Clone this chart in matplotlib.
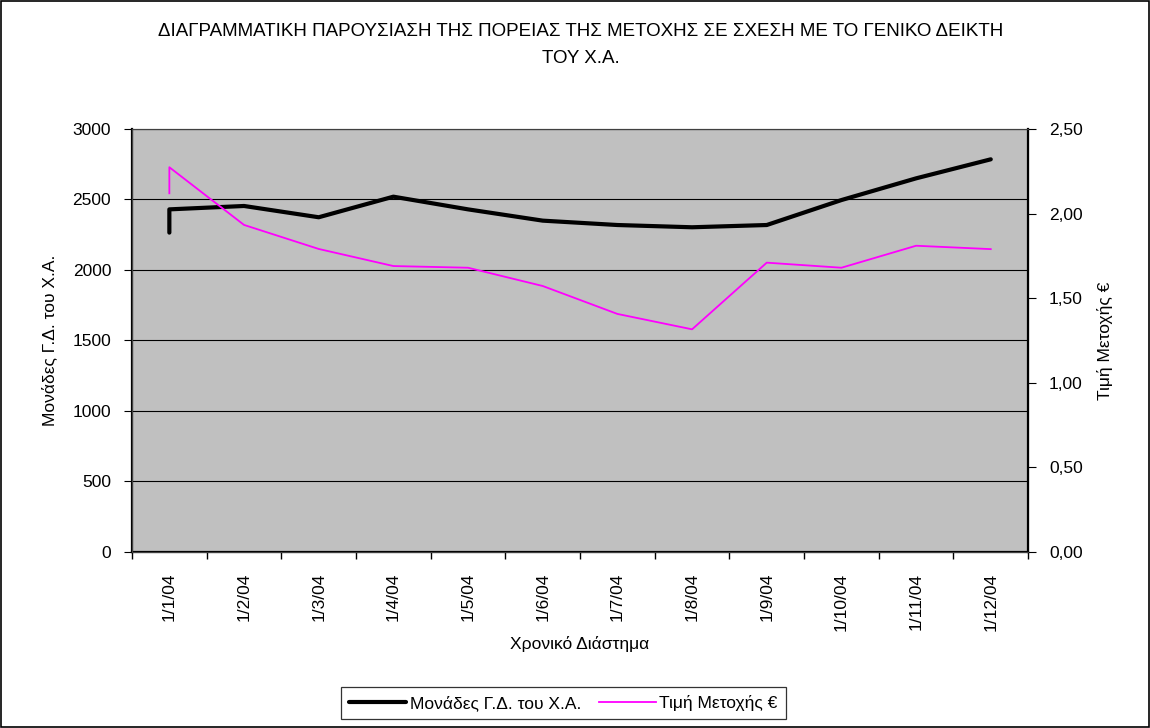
import matplotlib.pyplot as plt
from matplotlib.patches import Rectangle
from matplotlib.ticker import FuncFormatter, FixedLocator

plt.rcParams['font.family'] = ['Liberation Sans', 'DejaVu Sans']

months = ["1/1/04", "1/2/04", "1/3/04", "1/4/04", "1/5/04", "1/6/04",
          "1/7/04", "1/8/04", "1/9/04", "1/10/04", "1/11/04", "1/12/04"]
# month slot of each observation (two readings fall in January)
point_month = [0, 0, 1, 2, 3, 4, 5, 6, 7, 8, 9, 10, 11]
index_units = [2265, 2430, 2454, 2374, 2520, 2430, 2350, 2319, 2303, 2319, 2496, 2650, 2785]
share_price = [2.12, 2.274, 1.933, 1.791, 1.690, 1.680, 1.572, 1.407, 1.316, 1.71, 1.68, 1.81, 1.79]

title = ("ΔΙΑΓΡΑΜΜΑΤΙΚΗ ΠΑΡΟΥΣΙΑΣΗ ΤΗΣ ΠΟΡΕΙΑΣ ΤΗΣ ΜΕΤΟΧΗΣ ΣΕ ΣΧΕΣΗ ΜΕ ΤΟ ΓΕΝΙΚΟ ΔΕΙΚΤΗ\n"
         "ΤΟΥ Χ.Α.")
fs = 12.5

fig = plt.figure(figsize=(11.5, 7.28), dpi=100)
fig.patches.append(Rectangle((0.001, 0.001), 0.998, 0.997, transform=fig.transFigure,
                             fill=False, edgecolor="black", linewidth=1.2))

ax = fig.add_axes([0.1148, 0.2418, 0.894 - 0.1148, 0.8228 - 0.2418])
ax.set_facecolor("#C0C0C0")
ax2 = ax.twinx()

l1, = ax.plot(point_month, index_units, color="black", linewidth=3,
              solid_capstyle="round", label="Μονάδες Γ.Δ. του Χ.Α.")
l2, = ax2.plot(point_month, share_price, color="#FF00FF", linewidth=1.3,
               label="Τιμή Μετοχής €")

ax.set_xlim(-0.5, len(months) - 0.5)
ax.set_ylim(0, 3000)
ax.set_yticks(range(0, 3001, 500))
ax2.set_ylim(0, 2.5)
ax2.set_yticks([0, 0.5, 1.0, 1.5, 2.0, 2.5])
ax2.yaxis.set_major_formatter(FuncFormatter(lambda v, p: f"{v:.2f}".replace(".", ",")))

ax.yaxis.grid(True, color="black", linewidth=0.8)
ax.set_axisbelow(True)

ax.set_xticks(range(len(months)))
ax.set_xticklabels(months, rotation=90, fontsize=fs)
ax.xaxis.set_minor_locator(FixedLocator([i - 0.5 for i in range(len(months) + 1)]))
ax.tick_params(axis="x", which="major", length=0, pad=15)
ax.tick_params(axis="x", which="minor", length=5, width=1)
ax.tick_params(axis="y", labelsize=fs, length=6, pad=9)
ax2.tick_params(axis="y", labelsize=fs, length=6, pad=9)

for a in (ax, ax2):
    for s in a.spines.values():
        s.set_color("#404040")
        s.set_linewidth(0.8)
ax.spines["left"].set_color("black")
ax.spines["left"].set_linewidth(1.6)
ax.spines["bottom"].set_color("black")
ax.spines["bottom"].set_linewidth(1.6)
ax2.spines["right"].set_color("black")
ax2.spines["right"].set_linewidth(1.6)

ax.set_ylabel("Μονάδες Γ.Δ. του Χ.Α.", fontsize=fs, labelpad=11)
ax2.set_ylabel("Τιμή Μετοχής €", fontsize=fs, labelpad=10)
ax.set_xlabel("Χρονικό Διάστημα", fontsize=fs, labelpad=4)

fig.text(0.505, 0.968, title, ha="center", va="top", fontsize=13.5, linespacing=1.75)

leg = fig.legend(handles=[l1, l2], loc="center", bbox_to_anchor=(0.49, 0.034), ncol=2,
                 fontsize=fs, frameon=True, fancybox=False, edgecolor="black",
                 handlelength=3.3, handletextpad=0.2, columnspacing=1.0,
                 borderpad=0.45)
leg.get_frame().set_linewidth(0.9)

fig.savefig("out.png", dpi=100)
